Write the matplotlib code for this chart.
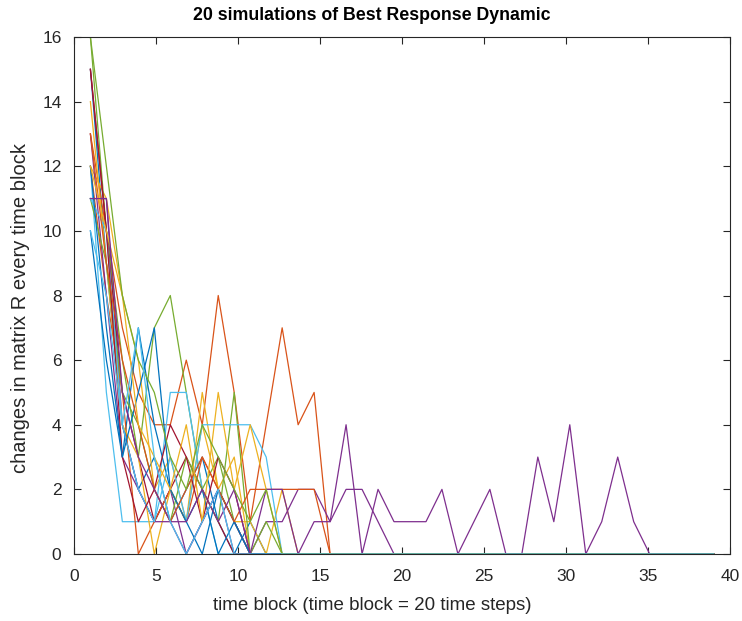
import numpy as np
import matplotlib
matplotlib.use("Agg")
import matplotlib.pyplot as plt

# time blocks: 40 blocks drawn from 1 to 39
blocks = np.linspace(1, 39, 40)

# changes in matrix R per time block, one list per simulation
sim01 = [15, 9, 4, 2, 3, 1, 2, 3, 1, 0, 1, 0, 0, 0, 0, 0, 0, 0, 0, 0,
         0, 0, 0, 0, 0, 0, 0, 0, 0, 0, 0, 0, 0, 0, 0, 0, 0, 0, 0, 0]
sim02 = [13, 10, 7, 5, 4, 4, 6, 4, 8, 5, 1, 4, 7, 4, 5, 0, 0, 0, 0, 0,
         0, 0, 0, 0, 0, 0, 0, 0, 0, 0, 0, 0, 0, 0, 0, 0, 0, 0, 0, 0]
sim03 = [12, 11, 8, 6, 2, 3, 1, 5, 2, 3, 0, 0, 0, 0, 0, 0, 0, 0, 0, 0,
         0, 0, 0, 0, 0, 0, 0, 0, 0, 0, 0, 0, 0, 0, 0, 0, 0, 0, 0, 0]
sim04 = [11, 11, 4, 2, 1, 2, 0, 1, 2, 0, 0, 0, 0, 0, 0, 0, 0, 0, 0, 0,
         0, 0, 0, 0, 0, 0, 0, 0, 0, 0, 0, 0, 0, 0, 0, 0, 0, 0, 0, 0]
sim05 = [16, 10, 6, 3, 7, 8, 5, 2, 3, 1, 0, 0, 0, 0, 0, 0, 0, 0, 0, 0,
         0, 0, 0, 0, 0, 0, 0, 0, 0, 0, 0, 0, 0, 0, 0, 0, 0, 0, 0, 0]
sim06 = [12, 5, 1, 1, 1, 5, 5, 2, 0, 0, 0, 0, 0, 0, 0, 0, 0, 0, 0, 0,
         0, 0, 0, 0, 0, 0, 0, 0, 0, 0, 0, 0, 0, 0, 0, 0, 0, 0, 0, 0]
sim07 = [15, 10, 5, 3, 1, 2, 3, 2, 1, 0, 0, 0, 0, 0, 0, 0, 0, 0, 0, 0,
         0, 0, 0, 0, 0, 0, 0, 0, 0, 0, 0, 0, 0, 0, 0, 0, 0, 0, 0, 0]
sim08 = [10, 6, 3, 7, 4, 2, 1, 2, 0, 1, 0, 0, 0, 0, 0, 0, 0, 0, 0, 0,
         0, 0, 0, 0, 0, 0, 0, 0, 0, 0, 0, 0, 0, 0, 0, 0, 0, 0, 0, 0]
sim09 = [12, 8, 5, 0, 1, 2, 1, 3, 2, 1, 0, 0, 0, 0, 0, 0, 0, 0, 0, 0,
         0, 0, 0, 0, 0, 0, 0, 0, 0, 0, 0, 0, 0, 0, 0, 0, 0, 0, 0, 0]
sim10 = [14, 9, 4, 3, 0, 2, 1, 4, 2, 1, 1, 0, 2, 0, 0, 0, 0, 0, 0, 0,
         0, 0, 0, 0, 0, 0, 0, 0, 0, 0, 0, 0, 0, 0, 0, 0, 0, 0, 0, 0]
sim11 = [13, 8, 3, 2, 1, 1, 0, 1, 2, 1, 0, 1, 1, 2, 2, 1, 2, 2, 1, 0,
         0, 0, 0, 0, 0, 0, 0, 0, 0, 0, 0, 0, 0, 0, 0, 0, 0, 0, 0, 0]
sim12 = [11, 9, 5, 4, 2, 1, 3, 2, 1, 5, 0, 1, 0, 0, 0, 0, 0, 0, 0, 0,
         0, 0, 0, 0, 0, 0, 0, 0, 0, 0, 0, 0, 0, 0, 0, 0, 0, 0, 0, 0]
sim13 = [11, 10, 4, 2, 1, 3, 1, 4, 4, 4, 4, 3, 0, 0, 0, 0, 0, 0, 0, 0,
         0, 0, 0, 0, 0, 0, 0, 0, 0, 0, 0, 0, 0, 0, 0, 0, 0, 0, 0, 0]
sim14 = [15, 10, 3, 1, 2, 4, 3, 1, 3, 2, 0, 0, 0, 0, 0, 0, 0, 0, 0, 0,
         0, 0, 0, 0, 0, 0, 0, 0, 0, 0, 0, 0, 0, 0, 0, 0, 0, 0, 0, 0]
sim15 = [12, 7, 3, 5, 7, 2, 1, 0, 2, 1, 0, 0, 0, 0, 0, 0, 0, 0, 0, 0,
         0, 0, 0, 0, 0, 0, 0, 0, 0, 0, 0, 0, 0, 0, 0, 0, 0, 0, 0, 0]
sim16 = [13, 9, 6, 4, 2, 1, 2, 3, 2, 1, 2, 2, 2, 2, 2, 0, 0, 0, 0, 0,
         0, 0, 0, 0, 0, 0, 0, 0, 0, 0, 0, 0, 0, 0, 0, 0, 0, 0, 0, 0]
sim17 = [12, 10, 8, 4, 3, 2, 4, 1, 5, 2, 4, 2, 0, 0, 0, 0, 0, 0, 0, 0,
         0, 0, 0, 0, 0, 0, 0, 0, 0, 0, 0, 0, 0, 0, 0, 0, 0, 0, 0, 0]
sim18 = [11, 11, 5, 3, 2, 1, 1, 2, 1, 2, 0, 2, 2, 0, 1, 1, 4, 0, 2, 1,
         1, 1, 2, 0, 1, 2, 0, 0, 3, 1, 4, 0, 1, 3, 1, 0, 0, 0, 0, 0]
sim19 = [16, 12, 8, 6, 5, 3, 2, 4, 3, 2, 1, 2, 0, 0, 0, 0, 0, 0, 0, 0,
         0, 0, 0, 0, 0, 0, 0, 0, 0, 0, 0, 0, 0, 0, 0, 0, 0, 0, 0, 0]
sim20 = [10, 8, 4, 7, 3, 1, 0, 1, 2, 0, 0, 0, 0, 0, 0, 0, 0, 0, 0, 0,
         0, 0, 0, 0, 0, 0, 0, 0, 0, 0, 0, 0, 0, 0, 0, 0, 0, 0, 0, 0]

sims = [sim01, sim02, sim03, sim04, sim05, sim06, sim07, sim08, sim09, sim10,
        sim11, sim12, sim13, sim14, sim15, sim16, sim17, sim18, sim19, sim20]

# MATLAB default line colour order
MATLAB = ["#0072BD", "#D95319", "#EDB120", "#7E2F8E", "#77AC30", "#4DBEEE", "#A2142F"]
INK = "#262626"

plt.rcParams.update({
    "font.family": ["Liberation Sans", "DejaVu Sans"],
    "font.size": 12,
})

W, H = 742, 621
fig = plt.figure(figsize=(W / 100, H / 100), dpi=100)
ax = fig.add_axes([74 / W, 1 - 554 / H, 656 / W, (554 - 37) / H])

for k, s in enumerate(sims):
    ax.plot(blocks, s, color=MATLAB[k % len(MATLAB)], lw=0.9)

ax.set_xlim(0, 40)
ax.set_ylim(0, 16)
ax.set_xticks(np.arange(0, 41, 5))
ax.set_yticks(np.arange(0, 17, 2))
ax.tick_params(direction="in", top=True, right=True, length=5, width=0.8,
               colors=INK, labelsize=12.5)
ax.tick_params(axis="x", pad=11)
ax.tick_params(axis="y", pad=9)
for sp in ax.spines.values():
    sp.set_color(INK)
    sp.set_linewidth(0.8)

# labels placed where the reference puts them (slightly left of axes centre)
fig.text(372 / W, 1 - 15 / H, "20 simulations of Best Response Dynamic",
         ha="center", va="center", fontsize=12.8, fontweight="bold", color="black")
fig.text(372 / W, 1 - 605 / H, "time block (time block = 20 time steps)",
         ha="center", va="center", fontsize=13.5, color=INK)
fig.text(21 / W, 1 - 308 / H, "changes in matrix R every time block",
         ha="center", va="center", rotation=90, fontsize=14.5, color=INK)

fig.savefig("out.png", dpi=100)
